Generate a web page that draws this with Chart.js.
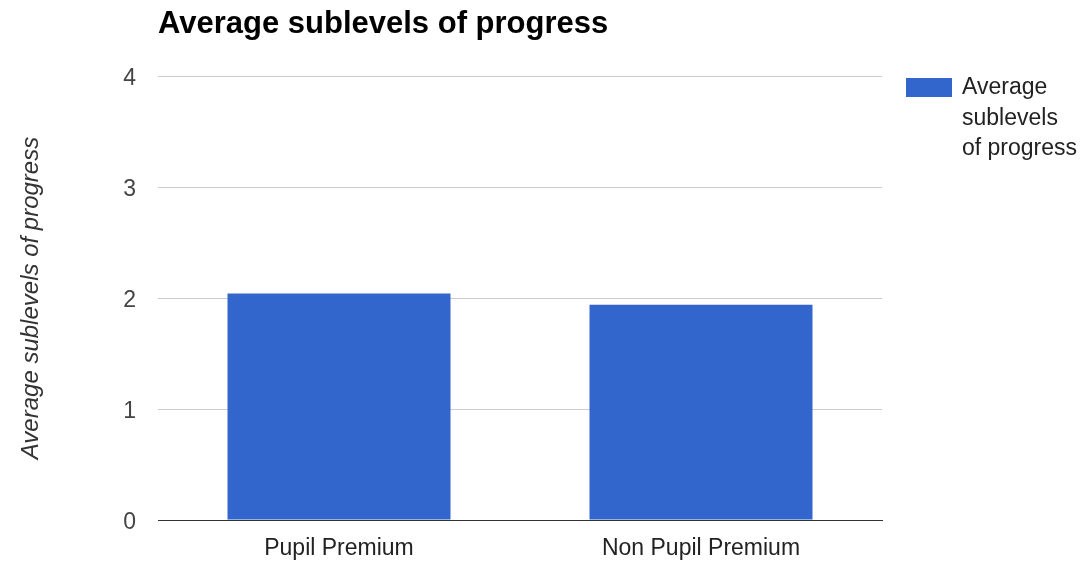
<!DOCTYPE html>
<html>
<head>
<meta charset="utf-8">
<script src="https://cdn.jsdelivr.net/npm/chart.js@4.4.1/dist/chart.umd.min.js"></script>
<style>
  html, body { margin: 0; padding: 0; background: #fff; }
  #wrap { width: 1088px; height: 565px; position: relative; }
</style>
</head>
<body>
<div id="wrap"><canvas id="c" width="1088" height="565"></canvas></div>
<script>
const chartTitle = "Average sublevels of progress";
const categories = ["Pupil Premium", "Non Pupil Premium"];
const seriesLabel = "Average sublevels of progress";
const seriesValues = [2.04, 1.94];
const yTicks = [0, 1, 2, 3, 4];
const legendLines = ["Average", "sublevels", "of progress"];

const FONT = "'Liberation Sans', Arial, sans-serif";

const overlay = {
  id: 'overlay',
  afterDraw(chart) {
    const ctx = chart.ctx;
    const area = chart.chartArea;
    ctx.save();
    // title
    ctx.fillStyle = '#000';
    ctx.font = "bold 31px " + FONT;
    ctx.textAlign = 'left';
    ctx.textBaseline = 'alphabetic';
    ctx.fillText(chartTitle, area.left, 33);
    // legend
    const ds = chart.data.datasets[0];
    ctx.fillStyle = ds.backgroundColor;
    ctx.fillRect(area.right + 24, 78, 46, 19);
    ctx.fillStyle = '#222';
    ctx.font = "23px " + FONT;
    ctx.textBaseline = 'middle';
    legendLines.forEach((t, i) => ctx.fillText(t, area.right + 80, 88 + i * 30.5));
    ctx.restore();
  }
};

new Chart(document.getElementById('c'), {
  type: 'bar',
  data: {
    labels: categories,
    datasets: [{
      label: seriesLabel,
      data: seriesValues,
      backgroundColor: '#3366CC',
      borderWidth: 0,
      barPercentage: 1.0,
      categoryPercentage: 0.616
    }]
  },
  options: {
    responsive: false,
    animation: false,
    devicePixelRatio: 1,
    layout: { padding: { top: 76, right: 206, left: 0, bottom: 0 } },
    plugins: {
      legend: { display: false },
      title: { display: false },
      tooltip: { enabled: false }
    },
    scales: {
      x: {
        grid: { display: false, drawTicks: false },
        border: { display: true, color: '#333', width: 1 },
        ticks: { color: '#222', font: { family: FONT, size: 23 }, padding: 15 },
        afterFit(s) { s.height = 45; }
      },
      y: {
        min: 0, max: 4,
        afterBuildTicks(s) { s.ticks = yTicks.map(v => ({ value: v })); },
        grid: {
          color: (c) => c.tick && c.tick.value === 0 ? '#333' : '#cccccc',
          drawTicks: false, lineWidth: 1
        },
        border: { display: false },
        ticks: { color: '#444', font: { family: FONT, size: 23 }, padding: 22, labelOffset: 3 },
        title: {
          display: true, text: seriesLabel, color: '#333',
          font: { family: FONT, size: 24, style: 'italic' },
          padding: { top: 17, bottom: 4 }
        },
        afterFit(s) { s.width = 158; }
      }
    }
  },
  plugins: [overlay]
});
</script>
</body>
</html>
